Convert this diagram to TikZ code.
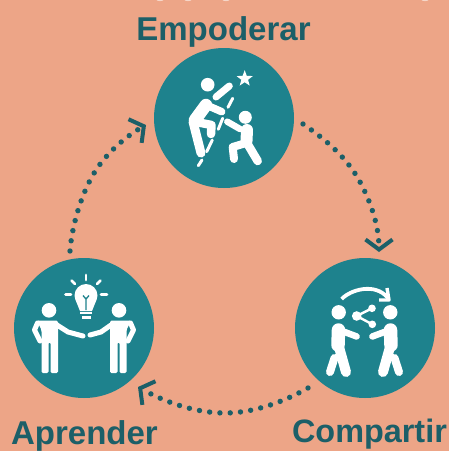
\documentclass[tikz,border=0pt]{standalone}
\usepackage{fontspec}
\setmainfont{Liberation Sans}
\usetikzlibrary{arrows.meta,shapes.geometric}
\definecolor{bgc}{HTML}{EDA587}
\definecolor{tealc}{HTML}{1E828D}
\definecolor{darkc}{HTML}{1C5F68}
\tikzset{
  disc/.style={circle,fill=tealc,draw=none,minimum size=140pt,inner sep=0pt},
  title/.style={text=darkc,font=\fontsize{33}{33}\selectfont\bfseries,anchor=base,inner sep=0pt},
  link/.style={draw=darkc,line width=5.4pt,line cap=round,dash pattern=on 0pt off 10.3pt,
    -{Straight Barb[length=10pt,width=27pt,line width=4pt]}},
  ic/.style={draw=white,line cap=round,line join=round},
  headc/.style={fill=white,draw=none}
}
\begin{document}
\begin{tikzpicture}[x=1pt,y=-1pt]
\fill[bgc] (0,0) rectangle (449,451);
\useasboundingbox (0,0) rectangle (449,451);
% marks at the top edge
\foreach \mx in {160,188,226,425} \fill[white,opacity=.55] (\mx,-0.5) ellipse (4pt and 1.6pt);

\node[disc] (top) at (224,118) {};
\node[disc] (left) at (84,328) {};
\node[disc] (right) at (365,328) {};
\node[title] (ttop) at (223.5,40) {Empoderar};
\node[title] (tleft) at (84.5,444) {Aprender};
\node[title,font=\fontsize{32.4}{32.4}\selectfont\bfseries] (tright) at (369.5,442) {Compartir};

% connectors
\coordinate (a1) at (303,124); \coordinate (a2) at (359,180); \coordinate (a3) at (379,252);
\coordinate (b1) at (308,388); \coordinate (b2) at (225,413); \coordinate (b3) at (138,387);
\coordinate (c1) at (70,251);  \coordinate (c2) at (98,167);  \coordinate (c3) at (146,125);
\draw[link] (a1) .. controls (322,137) and (345,155) .. (a2) .. controls (370,200) and (379,225) .. (a3);
\draw[link] (b1) .. controls (285,401) and (255,413) .. (b2) .. controls (195,413) and (165,402) .. (b3);
\draw[link] (c1) .. controls (72,225) and (82,190) .. (c2) .. controls (110,150) and (128,135) .. (c3);

% Empoderar icon
\fill[headc] (207.7,84.7) circle (6.8pt);
\draw[ic,line width=7pt] (216,97) -- (229.3,86);
\draw[ic,line width=12.5pt] (206,105) -- (195,120);
\draw[ic,line width=7.5pt] (204,104) -- (221.7,111.7);
\draw[ic,line width=9pt] (193,121.7) -- (201,153);
\draw[ic,line width=8.5pt] (196,122) -- (211.5,125) -- (211,134);
\draw[ic,line width=3pt] (232.7,98.3) -- (228,107.3);
\draw[ic,line width=3pt] (222.7,118.3) -- (218.3,129.3);
\draw[ic,line width=3pt] (212.3,140) -- (206.7,151.7);
\draw[ic,line width=3pt] (202,160) -- (198.3,165.7);
\node[star,star points=5,star point ratio=2.4,fill=white,minimum size=17pt,inner sep=0pt] (st) at (244.7,78.7) {};
\fill[headc] (245.3,117.3) circle (6.5pt);
\draw[ic,line width=12pt] (247,130) -- (246.5,141);
\draw[ic,line width=6.5pt] (227.3,121.7) -- (240,129);
\draw[ic,line width=8pt] (246,143) -- (232.7,147) -- (234,159);
\draw[ic,line width=8.5pt] (247,143) -- (257.7,161);

% Aprender icon
\draw[ic,line width=2.8pt] (86,275) -- (86,280);
\draw[ic,line width=2.8pt] (71.5,280.5) -- (75,284);
\draw[ic,line width=2.8pt] (100.5,280.5) -- (97,284);
\draw[ic,line width=2.8pt] (65.5,294.7) -- (71,294.7);
\draw[ic,line width=2.8pt] (101,294.7) -- (107,294.7);
\fill[white] (86,295.5) circle (11.5pt);
\fill[white] (76,301) -- (96,301) -- (92,311) -- (80,311) -- cycle;
\fill[white] (80,312) rectangle (92,314);
\fill[white] (81.5,315.5) rectangle (90.5,318.5);
\draw[tealc,line width=1.3pt] (86,310) -- (86,299) -- (83,295.5) (86,299) -- (89,295.5);
\foreach \sc/\off in {1/0,-1/168}{
\begin{scope}[shift={(\off,0)},xscale=\sc]
\fill[headc] (49,310.3) circle (7.3pt);
\fill[white,rounded corners=1.5pt] (37,320.5) -- (58,320.5) -- (58,373) -- (50.5,373) -- (50.5,342) -- (48.5,342) -- (48.5,373) -- (41.5,373) -- (41.5,330) -- cycle;
\draw[ic,line width=5pt] (37.5,323) -- (34.5,330) -- (40,341);
\end{scope}}
\draw[ic,line width=5pt] (57,325) -- (68,332) -- (83,336);
\draw[ic,line width=5pt] (111,325) -- (101,332) -- (90,335);

% Compartir icon
\draw[ic,line width=3.8pt,line cap=butt] (341.7,299) .. controls (350,290) and (375,282) .. (388,298);
\draw[ic,line width=3.4pt,line cap=butt] (387,288) -- (389,300) -- (379,300);
\draw[ic,line width=2.4pt] (372,308.3) -- (356.7,316) -- (372.3,324.3);
\fill[white] (356.7,316) circle (4.8pt) (372,308.3) circle (3.8pt) (372.3,324.3) circle (3.8pt);
\foreach \sc/\off in {1/0,-1/729}{
\begin{scope}[shift={(\off,0)},xscale=\sc]
\fill[headc] (338.7,312.3) circle (7.2pt);
\draw[ic,line width=13.5pt] (338.5,330) -- (338,345);
\draw[ic,line width=6.5pt] (342,331) -- (356.7,336.5);
\draw[ic,line width=10pt] (339,347) -- (346,372);
\draw[ic,line width=8pt] (334.5,358) -- (330,372);
\end{scope}}
\end{tikzpicture}
\end{document}
